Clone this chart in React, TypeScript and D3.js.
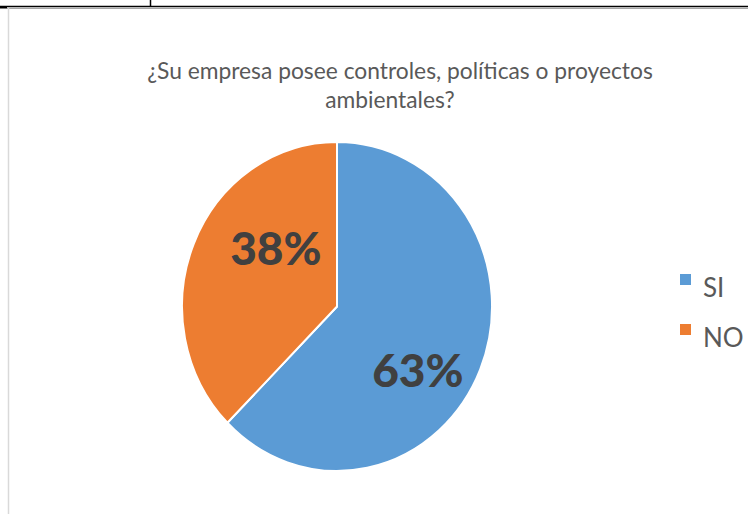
import React from "react";
import * as d3 from "d3";

const categories = ["SI", "NO"];
const values = [62.5, 37.5];
const colors = ["#5B9BD5", "#ED7D31"];
const titleLines = ["¿Su empresa posee controles, políticas o proyectos", "ambientales?"];

const W = 748;
const H = 514;
const cx = 337;
const cy = 306.5;
const rx = 155;
const ry = 164.5;

export default function App() {
  const pie = d3.pie<number>().sort(null).value((d) => d);
  const arcs = pie(values);
  const arc = d3.arc<d3.PieArcDatum<number>>().innerRadius(0).outerRadius(1);
  const total = d3.sum(values);
  // label placement (angle in degrees clockwise from top, radius fraction)
  const labelPlace = [
    { a: 126.6, r: 0.65 },
    { a: 311.9, r: 0.53 },
  ];
  const font = "Lato, 'Open Sans', sans-serif";
  return (
    <svg
      width={W}
      height={H}
      style={{ position: "absolute", left: 0, top: 0, background: "#fff" }}
    >
      {/* page frame lines */}
      <line x1={0} y1={6.5} x2={W} y2={6.5} stroke="#000" strokeWidth={1.5} />
      <line x1={150.5} y1={0} x2={150.5} y2={7} stroke="#000" strokeWidth={1.5} />
      <rect x={0} y={6} width={7} height={2.5} fill="#000" />
      <line x1={7} y1={8.3} x2={W} y2={8.3} stroke="#a6a6a6" strokeWidth={1.2} />
      <line x1={8.5} y1={8} x2={8.5} y2={H} stroke="#d9d9d9" strokeWidth={1.5} />

      {/* title */}
      <text
        x={400}
        y={79}
        textAnchor="middle"
        fontFamily={font}
        fontSize={22.8}
        fill="#595959"
      >
        {titleLines[0]}
      </text>
      <text
        x={390}
        y={108}
        textAnchor="middle"
        fontFamily={font}
        fontSize={22.8}
        fill="#595959"
      >
        {titleLines[1]}
      </text>

      {/* pie */}
      <g transform={`translate(${cx},${cy}) scale(${rx},${ry})`}>
        {arcs.map((a, i) => (
          <path
            key={categories[i]}
            d={arc(a) || ""}
            fill={colors[i]}
            stroke="#fff"
            strokeWidth={2}
            vectorEffect="non-scaling-stroke"
          />
        ))}
      </g>

      {/* data labels */}
      {arcs.map((a, i) => {
        const p = labelPlace[i];
        const t = (p.a * Math.PI) / 180;
        const x = cx + p.r * rx * Math.sin(t);
        const y = cy - p.r * ry * Math.cos(t);
        return (
          <text
            key={"l" + i}
            x={x}
            y={y + 17}
            textAnchor="middle"
            fontFamily={font}
            fontWeight={900}
            fontSize={46}
            fill="#404040"
          >
            {Math.round((a.data / total) * 100) + "%"}
          </text>
        );
      })}

      {/* legend */}
      {categories.map((c, i) => (
        <g key={"lg" + c} transform={`translate(680,${274 + i * 50})`}>
          <rect x={0} y={0} width={11} height={11} fill={colors[i]} />
          <text
            x={23}
            y={23}
            fontFamily={font}
            fontSize={26}
            fill="#595959"
          >
            {c}
          </text>
        </g>
      ))}
    </svg>
  );
}
